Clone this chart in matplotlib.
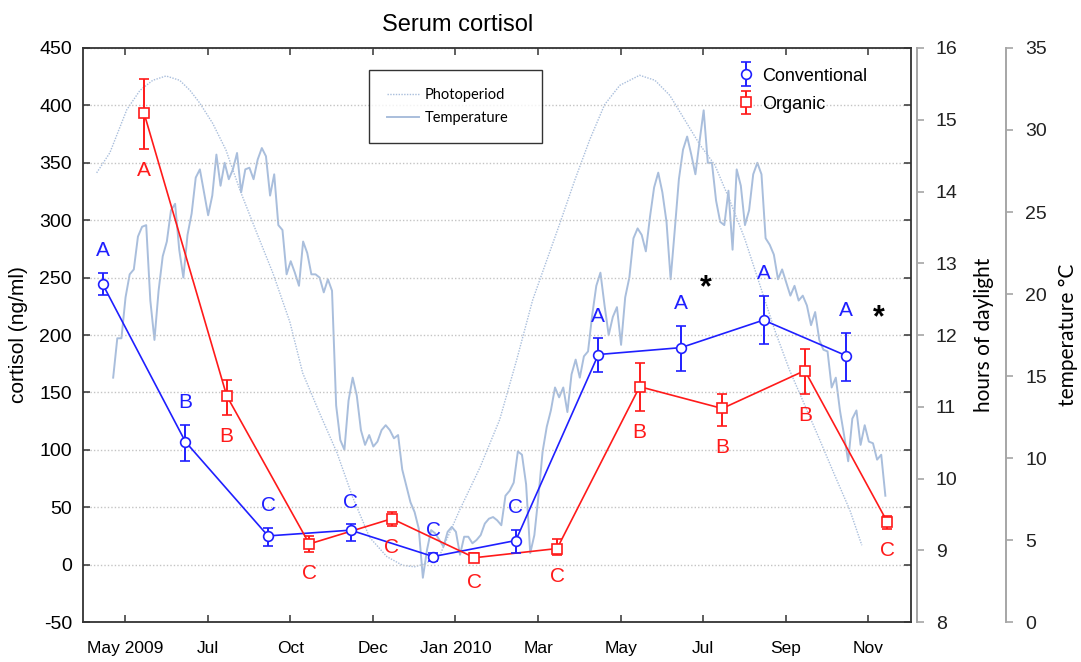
import matplotlib

matplotlib.use("Agg")
import matplotlib.pyplot as plt
import numpy as np
from matplotlib.legend_handler import HandlerErrorbar

plt.rcParams["font.family"] = ["Liberation Sans", "DejaVu Sans"]
plt.rcParams["axes.unicode_minus"] = False

# x axis: sampling order, conventional and organic farms were visited in turn
tick_pos = [0.54, 2.54, 4.54, 6.54, 8.54, 10.54, 12.54, 14.54, 16.54, 18.54]
tick_labels = ["May 2009", "Jul", "Oct", "Dec", "Jan 2010", "Mar", "May", "Jul", "Sep", "Nov"]

# serum cortisol (ng/ml): mean with lower / upper error limits
conv_x = [0, 2, 4, 6, 8, 10, 12, 14, 16, 18]
conv_mean = [244, 107, 25, 30, 7, 21, 183, 189, 213, 182]
conv_lo = [235, 90, 16, 21, 3, 10, 168, 169, 192, 160]
conv_hi = [254, 122, 32, 35, 10, 30, 197, 208, 234, 202]
conv_grp = ["A", "B", "C", "C", "C", "C", "A", "A", "A", "A"]

org_x = [1, 3, 5, 7, 9, 11, 13, 15, 17, 19]
org_mean = [393, 147, 18, 40, 6, 14, 155, 136, 169, 37]
org_lo = [362, 130, 11, 34, 3, 8, 134, 121, 149, 31]
org_hi = [423, 161, 25, 46, 10, 22, 176, 149, 188, 42]
org_grp = ["A", "B", "C", "C", "C", "C", "B", "B", "B", "C"]

# significant differences between farms
star_x = [14.6, 18.8]
star_y = [241, 215]

# photoperiod (hours of daylight)
photo_x = [-0.15, 0.17, 0.58, 0.90, 1.21, 1.53, 1.86, 2.11, 2.35, 2.66, 2.98, 3.32,
           3.73, 4.12, 4.53, 4.84, 5.25, 5.67, 6.05, 6.46, 6.88, 7.26, 7.55, 7.80,
           8.16, 8.64, 9.13, 9.61, 10.02, 10.41, 11.07, 11.43, 11.79, 12.15, 12.52,
           13.00, 13.37, 13.73, 14.09, 14.46, 14.82, 15.18, 15.54, 15.91, 16.27,
           16.63, 17.00, 17.36, 17.72, 18.09, 18.38]
photo_h = [14.26, 14.54, 15.14, 15.41, 15.55, 15.61, 15.55, 15.41, 15.23, 14.95, 14.58,
           14.02, 13.42, 12.86, 12.18, 11.47, 10.91, 10.36, 9.74, 9.18, 8.91, 8.79,
           8.77, 8.81, 8.93, 9.56, 10.15, 10.82, 11.65, 12.49, 13.56, 14.16, 14.72,
           15.21, 15.48, 15.62, 15.55, 15.34, 15.00, 14.65, 14.37, 13.88, 13.35,
           12.70, 12.07, 11.51, 11.02, 10.54, 10.05, 9.56, 9.07]

# daily mean water temperature (°C), read every 0.1 sampling step from 0.25
temp_c = [14.9, 17.3, 17.3, 19.8, 21.2, 21.5, 23.5, 24.1, 24.2, 19.6,
          17.2, 20.2, 22.3, 23.2, 25.1, 25.5, 22.7, 21.0, 23.6, 24.9,
          27.1, 27.6, 26.2, 24.8, 26.0, 28.5, 26.6, 28.0, 27.0, 27.6,
          28.6, 26.2, 27.6, 27.7, 27.0, 28.2, 28.9, 28.4, 26.0, 27.3,
          24.2, 23.9, 21.2, 22.0, 21.3, 20.5, 23.2, 22.5, 21.2, 21.2,
          21.0, 20.1, 20.9, 20.2, 13.2, 11.1, 10.5, 13.5, 14.9, 13.8,
          11.7, 10.8, 11.4, 10.7, 11.0, 11.7, 12.0, 11.7, 11.2, 11.4,
          9.3, 8.3, 7.3, 6.7, 5.7, 2.7, 4.4, 5.6, 5.4, 5.0,
          4.6, 5.5, 5.8, 5.5, 4.1, 5.2, 5.2, 4.8, 5.0, 5.3,
          6.0, 6.3, 6.4, 6.2, 5.9, 7.7, 8.0, 8.5, 10.4, 10.2,
          8.4, 4.2, 5.3, 7.7, 10.4, 11.9, 12.9, 14.3, 13.7, 14.3,
          12.8, 15.1, 16.0, 14.9, 16.2, 16.5, 18.7, 20.5, 21.3, 19.3,
          17.5, 18.6, 19.2, 16.9, 19.8, 21.0, 23.4, 24.0, 23.6, 22.6,
          24.7, 26.5, 27.4, 26.2, 24.4, 20.9, 23.9, 27.0, 28.8, 29.6,
          28.5, 27.3, 29.3, 31.2, 28.0, 28.0, 25.7, 24.4, 24.2, 26.3,
          22.7, 27.6, 26.6, 24.2, 25.1, 27.3, 28.0, 27.3, 23.4, 23.0,
          22.4, 20.9, 21.5, 20.7, 19.9, 20.5, 19.6, 19.9, 19.3, 18.1,
          18.9, 17.2, 16.6, 16.5, 14.3, 14.9, 12.9, 11.4, 9.8, 12.4,
          12.9, 10.8, 12.0, 11.0, 10.9, 9.9, 10.2, 7.7]
temp_x = 0.25 + 0.1 * np.arange(len(temp_c))

BLUE = "#1f1fff"
RED = "#ff1a1a"
ENV = "#a9bedc"
DARK = "#333333"

fig = plt.figure(figsize=(10.81, 6.62), dpi=100)
ax = fig.add_axes([0.0768, 0.0604, 0.7659, 0.8671])
ax2 = ax.twinx()
ax3 = ax.twinx()
ax.set_zorder(5)
ax.patch.set_visible(False)

# environment curves
(photo_line,) = ax2.plot(photo_x, photo_h, color=ENV, lw=1.0, ls=(0, (1, 1)))
(temp_line,) = ax3.plot(temp_x, temp_c, color=ENV, lw=1.4)

# cortisol series
for xs, m, lo, hi, col, mk, ms in [
    (conv_x, conv_mean, conv_lo, conv_hi, BLUE, "o", 7),
    (org_x, org_mean, org_lo, org_hi, RED, "s", 6.5),
]:
    m = np.array(m)
    yerr = [m - np.array(lo), np.array(hi) - m]
    ax.plot(xs, m, color=col, lw=1.2, zorder=2)
    cont = ax.errorbar(xs, m, yerr=yerr, fmt=mk, color=col, mfc="white", mec=col,
                       ms=ms, mew=1.2, elinewidth=1.4, capsize=3.3, capthick=1.4,
                       zorder=3)
    if col == BLUE:
        conv_cont = cont
    else:
        org_cont = cont

for x, hi, g in zip(conv_x, conv_hi, conv_grp):
    ax.annotate(g, (x, hi), xytext=(0, 16), textcoords="offset points",
                ha="center", va="center", color=BLUE, fontsize=15)
for x, lo, g in zip(org_x, org_lo, org_grp):
    ax.annotate(g, (x, lo), xytext=(0, -15.5), textcoords="offset points",
                ha="center", va="center", color=RED, fontsize=15)
for x, y in zip(star_x, star_y):
    ax.text(x, y, "*", ha="center", va="center", fontsize=22, fontweight="bold")

# main axes
ax.set_xlim(-0.48, 19.57)
ax.set_ylim(-50, 450)
ax.set_yticks(np.arange(-50, 451, 50))
ax.set_xticks(tick_pos)
ax.set_xticklabels(tick_labels, fontsize=12.5)
ax.tick_params(axis="x", direction="in", top=True, length=5, width=1.1,
               color=DARK, pad=14)
ax.tick_params(axis="y", direction="in", right=True, length=5, width=1.1,
               color=DARK, labelsize=14, pad=8)
ax.grid(axis="y", color="#c4c4c4", ls=(0, (1, 1.5)), lw=1.0)
for sp in ax.spines.values():
    sp.set_color(DARK)
    sp.set_linewidth(1.3)
ax.set_ylabel("cortisol (ng/ml)", fontsize=15)
ax.yaxis.set_label_coords(-0.066, 0.5)
ax.set_title("Serum cortisol", fontsize=17, pad=12, x=0.452)

# daylight axis
ax2.set_ylim(8, 16)
ax2.set_yticks(np.arange(8, 17, 1))
for ax_r in (ax2, ax3):
    for name in ("left", "top", "bottom"):
        ax_r.spines[name].set_visible(False)
    ax_r.spines["right"].set_color("#a6a6a6")
    ax_r.spines["right"].set_linewidth(1.4)
    ax_r.tick_params(axis="y", direction="out", length=5, width=1.2,
                     color="#a6a6a6", labelcolor="#222222", labelsize=14, pad=9)
    for lab in ax_r.get_yticklabels():
        lab.set_family(["Lato", "DejaVu Sans"])
ax2.spines["right"].set_position(("outward", 4))
ax2.set_ylabel("hours of daylight", fontsize=15, family=["Lato", "DejaVu Sans"])
ax2.yaxis.set_label_coords(1.076, 0.5)

ax3.set_ylim(0, 35)
ax3.set_yticks(np.arange(0, 36, 5))
for lab in ax3.get_yticklabels():
    lab.set_family(["Lato", "DejaVu Sans"])
ax3.spines["right"].set_position(("axes", 1.1146))
ax3.set_ylabel("temperature °C", fontsize=15, family=["Lato", "DejaVu Sans"])
ax3.yaxis.set_label_coords(1.1775, 0.5)

# legends
leg1 = fig.legend([photo_line, temp_line], ["Photoperiod", "Temperature"],
                  loc="upper left", bbox_to_anchor=(0.3413, 0.787, 0.16, 0.107),
                  mode="expand", fancybox=False, edgecolor="black",
                  prop={"family": ["Lato", "DejaVu Sans"], "size": 10.5},
                  handlelength=2.2, handletextpad=0.4, labelspacing=0.6,
                  borderpad=1.25, borderaxespad=0)
leg1.get_frame().set_linewidth(1.0)

fig.legend([conv_cont, org_cont], ["Conventional", "Organic"], loc="upper left",
           bbox_to_anchor=(0.683, 0.898), frameon=False, fontsize=13,
           handlelength=0.8, handletextpad=0.5, labelspacing=0.62,
           borderpad=0, borderaxespad=0,
           handler_map={type(conv_cont): HandlerErrorbar(xerr_size=0.45, yerr_size=0.65)})

fig.savefig("out.png", dpi=100)
